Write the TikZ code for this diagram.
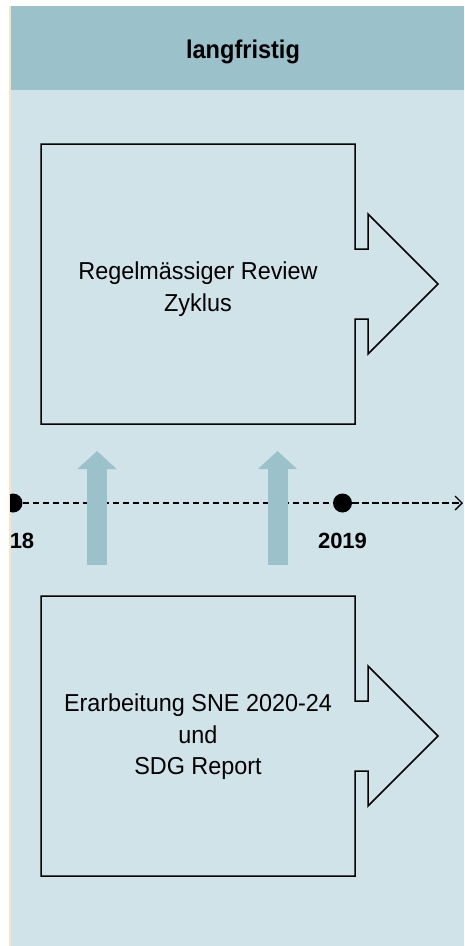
\documentclass[tikz,border=0pt]{standalone}
\usepackage{fontspec}
\setmainfont{Liberation Sans}
\newfontfamily\stepfont{Liberation Sans}[FakeStretch=0.955]
\newfontfamily\headfont{Liberation Sans}[FakeStretch=0.92]
\usetikzlibrary{positioning, arrows.meta}

\definecolor{headblue}{RGB}{155,193,203}
\definecolor{paneblue}{RGB}{207,227,232}
\definecolor{edgebeige}{RGB}{245,230,196}

\tikzset{
  notchbox/.pic={
    \draw[outline] (314,-35) -- (314,-140) -- (0,-140) -- (0,140) -- (314,140) -- (314,35)
      -- (327,35) -- (327,70) -- (397,0) -- (327,-70) -- (327,-35) -- cycle;
  }
}

\begin{document}
\begin{tikzpicture}[x=1pt, y=-1pt,
  boxtext/.style={align=center, font=\stepfont\fontsize{24.5}{31.5}\selectfont},
  yeartext/.style={font=\fontsize{22}{26}\selectfont\bfseries},
  dot/.style={circle, fill=black, inner sep=0pt, minimum size=19pt},
  pushup/.style={draw=headblue, line width=20pt, -{Triangle[width=38pt, length=18pt]}},
  outline/.style={draw=black, line width=1.5pt, line join=miter}]
\useasboundingbox (0,0) rectangle (464,946);

% panel and heading
\fill[paneblue] (10,90) rectangle (464,946);
\fill[headblue] (10,6) rectangle (464,90);
\draw[edgebeige, line width=1.5pt] (10,6) -- (10,946);
\node[font=\headfont\fontsize{25.6}{30}\selectfont\bfseries] (head) at (243,51.5) {langfristig};

% the two steps
\pic at (41,284) {notchbox};
\pic at (41,736) {notchbox};
\node[boxtext] (review) at (198,289) {Regelmässiger Review\\Zyklus};
\node[boxtext] (sne) at (198,737) {Erarbeitung SNE 2020-24\\und\\SDG Report};

% time line
\begin{scope}
  \clip (10,90) rectangle (464,946);
  \node[dot] (y18) at (13,503) {};
  \node[dot] (y19) at (342.5,503) {};
  \coordinate (tlend) at (463,503);
  \draw[dashed, dash pattern=on 6.5pt off 3.5pt, line width=1.3pt] (y18) -- (y19);
  \draw[dashed, dash pattern=on 6.5pt off 3.5pt, line width=1.3pt, -{Straight Barb[length=7pt, width=14pt]}] (y19) -- (tlend);
\end{scope}
\node[yeartext] (l18) at (22,541) {18};
\node[yeartext] (l19) at (342.5,541) {2019};

% arrows up
\coordinate (p1s) at (97,565);
\coordinate (p1e) at (97,451);
\coordinate (p2s) at (277.5,565);
\coordinate (p2e) at (277.5,451);
\draw[pushup] (p1s) -- (p1e);
\draw[pushup] (p2s) -- (p2e);
\end{tikzpicture}
\end{document}
